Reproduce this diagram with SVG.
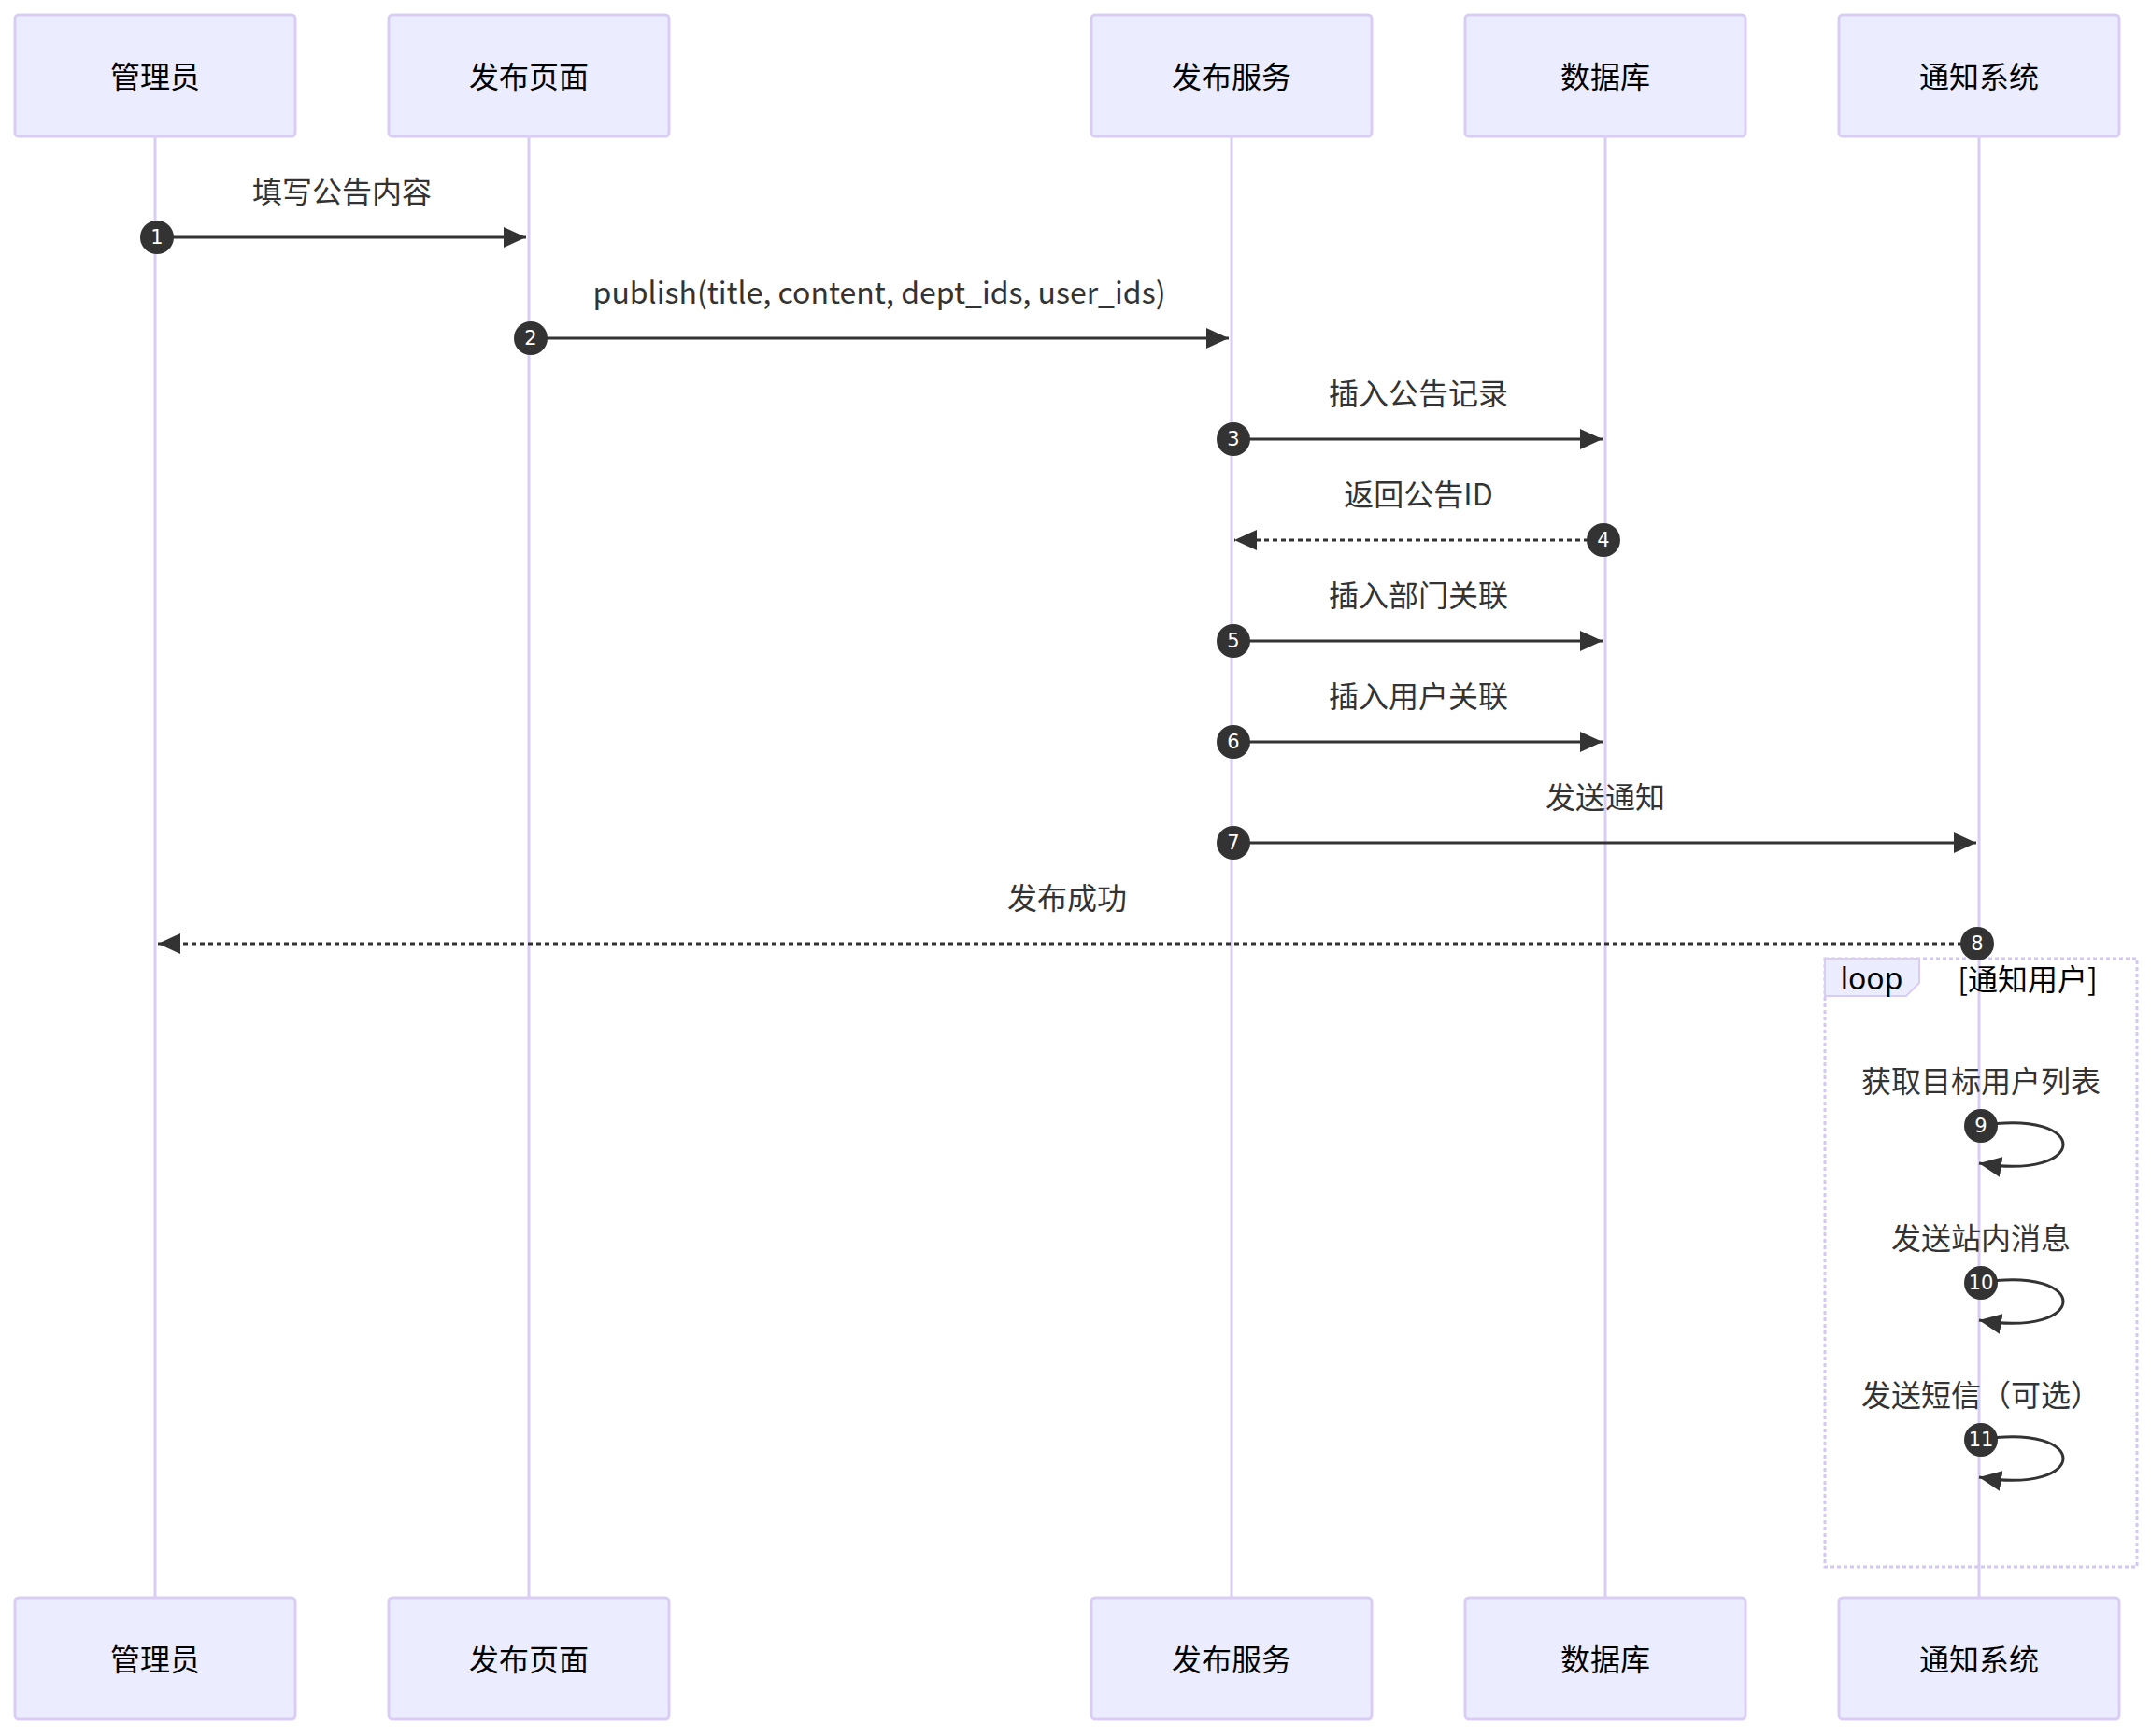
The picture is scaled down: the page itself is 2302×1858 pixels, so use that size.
<svg xmlns="http://www.w3.org/2000/svg" width="2302" height="1858" viewBox="0 0 2302 1858">
<style>
.actor{fill:#ECECFF;stroke:#D9CDF3;stroke-width:3}
.actor-text{font-family:"Noto Sans CJK SC","Noto Sans",sans-serif;font-size:32px;fill:#000;text-anchor:middle;dominant-baseline:central}
.lifeline{stroke:#D9CDF3;stroke-width:3;fill:none}
.msg{stroke:#333;stroke-width:3;fill:none}
.dashed{stroke-dasharray:5 4}
.msg-text{font-family:"Noto Sans CJK SC","Noto Sans",sans-serif;font-size:32px;fill:#333;text-anchor:middle;dominant-baseline:central}
.seq{fill:#333}
.seq-text{font-family:"DejaVu Sans",sans-serif;font-size:21px;fill:#fff;text-anchor:middle;dominant-baseline:central}
.loop-line{stroke:#D4C8F2;stroke-width:3;fill:none;stroke-dasharray:4 3}
.label-box{fill:#ECECFF;stroke:#D9CDF3;stroke-width:2}
.loop-text{font-family:"Noto Sans","Noto Sans CJK SC",sans-serif;font-size:32px;fill:#000;text-anchor:middle;dominant-baseline:central}
.loop-cond{font-family:"Noto Sans CJK SC","Noto Sans",sans-serif;font-size:32px;fill:#000;text-anchor:middle;dominant-baseline:central}
</style>
<defs>
<marker id="arrow" markerUnits="userSpaceOnUse" markerWidth="24" markerHeight="22" viewBox="0 0 22 20" refX="22" refY="10" orient="auto">
<path d="M0,0 L22,10 L0,20 z" fill="#333"/>
</marker>
</defs>
<rect width="2302" height="1858" fill="#fff"/>
<g id="lifelines">
<line class="lifeline" x1="166" y1="146" x2="166" y2="1710"/>
<line class="lifeline" x1="566" y1="146" x2="566" y2="1710"/>
<line class="lifeline" x1="1318" y1="146" x2="1318" y2="1710"/>
<line class="lifeline" x1="1718" y1="146" x2="1718" y2="1710"/>
<line class="lifeline" x1="2118" y1="146" x2="2118" y2="1710"/>
</g>
<g id="actor-admin">
<rect class="actor" x="16" y="16" width="300" height="130" rx="4"/>
<text class="actor-text" x="166" y="80">管理员</text>
<rect class="actor" x="16" y="1710" width="300" height="130" rx="4"/>
<text class="actor-text" x="166" y="1774">管理员</text>
</g>
<g id="actor-page">
<rect class="actor" x="416" y="16" width="300" height="130" rx="4"/>
<text class="actor-text" x="566" y="80">发布页面</text>
<rect class="actor" x="416" y="1710" width="300" height="130" rx="4"/>
<text class="actor-text" x="566" y="1774">发布页面</text>
</g>
<g id="actor-service">
<rect class="actor" x="1168" y="16" width="300" height="130" rx="4"/>
<text class="actor-text" x="1318" y="80">发布服务</text>
<rect class="actor" x="1168" y="1710" width="300" height="130" rx="4"/>
<text class="actor-text" x="1318" y="1774">发布服务</text>
</g>
<g id="actor-db">
<rect class="actor" x="1568" y="16" width="300" height="130" rx="4"/>
<text class="actor-text" x="1718" y="80">数据库</text>
<rect class="actor" x="1568" y="1710" width="300" height="130" rx="4"/>
<text class="actor-text" x="1718" y="1774">数据库</text>
</g>
<g id="actor-notify">
<rect class="actor" x="1968" y="16" width="300" height="130" rx="4"/>
<text class="actor-text" x="2118" y="80">通知系统</text>
<rect class="actor" x="1968" y="1710" width="300" height="130" rx="4"/>
<text class="actor-text" x="2118" y="1774">通知系统</text>
</g>
<g id="loop">
<rect class="loop-line" x="1953" y="1026" width="334" height="651"/>
<polygon class="label-box" points="1953,1026 2054,1026 2054,1052 2040,1066 1953,1066"/>
<text class="loop-text" x="2003" y="1046">loop</text>
<text class="loop-cond" x="2170" y="1046">[通知用户]</text>
</g>
<g id="connectors">
<line class="msg" x1="166" y1="254" x2="563" y2="254" marker-end="url(#arrow)"/>
<text class="msg-text" x="366" y="203">填写公告内容</text>
<line class="msg" x1="566" y1="362" x2="1315" y2="362" marker-end="url(#arrow)"/>
<text class="msg-text" x="941" y="311">publish(title, content, dept_ids, user_ids)</text>
<line class="msg" x1="1318" y1="470" x2="1715" y2="470" marker-end="url(#arrow)"/>
<text class="msg-text" x="1518" y="419">插入公告记录</text>
<line class="msg dashed" x1="1718" y1="578" x2="1321" y2="578" marker-end="url(#arrow)"/>
<text class="msg-text" x="1518" y="527">返回公告ID</text>
<line class="msg" x1="1318" y1="686" x2="1715" y2="686" marker-end="url(#arrow)"/>
<text class="msg-text" x="1518" y="635">插入部门关联</text>
<line class="msg" x1="1318" y1="794" x2="1715" y2="794" marker-end="url(#arrow)"/>
<text class="msg-text" x="1518" y="743">插入用户关联</text>
<line class="msg" x1="1318" y1="902" x2="2115" y2="902" marker-end="url(#arrow)"/>
<text class="msg-text" x="1718" y="851">发送通知</text>
<line class="msg dashed" x1="2118" y1="1010" x2="169" y2="1010" marker-end="url(#arrow)"/>
<text class="msg-text" x="1142" y="959">发布成功</text>
<path class="msg" d="M2118,1205 C2238,1185 2238,1265 2118,1245" marker-end="url(#arrow)"/>
<text class="msg-text" x="2120" y="1155">获取目标用户列表</text>
<path class="msg" d="M2118,1373 C2238,1353 2238,1433 2118,1413" marker-end="url(#arrow)"/>
<text class="msg-text" x="2120" y="1323">发送站内消息</text>
<path class="msg" d="M2118,1541 C2238,1521 2238,1601 2118,1581" marker-end="url(#arrow)"/>
<text class="msg-text" x="2120" y="1491">发送短信（可选）</text>
</g>
<g id="sequence-numbers">
<circle class="seq" cx="168" cy="254" r="18"/><text class="seq-text" x="168" y="254">1</text>
<circle class="seq" cx="568" cy="362" r="18"/><text class="seq-text" x="568" y="362">2</text>
<circle class="seq" cx="1320" cy="470" r="18"/><text class="seq-text" x="1320" y="470">3</text>
<circle class="seq" cx="1716" cy="578" r="18"/><text class="seq-text" x="1716" y="578">4</text>
<circle class="seq" cx="1320" cy="686" r="18"/><text class="seq-text" x="1320" y="686">5</text>
<circle class="seq" cx="1320" cy="794" r="18"/><text class="seq-text" x="1320" y="794">6</text>
<circle class="seq" cx="1320" cy="902" r="18"/><text class="seq-text" x="1320" y="902">7</text>
<circle class="seq" cx="2116" cy="1010" r="18"/><text class="seq-text" x="2116" y="1010">8</text>
<circle class="seq" cx="2120" cy="1205" r="18"/><text class="seq-text" x="2120" y="1205">9</text>
<circle class="seq" cx="2120" cy="1373" r="18"/><text class="seq-text" x="2120" y="1373">10</text>
<circle class="seq" cx="2120" cy="1541" r="18"/><text class="seq-text" x="2120" y="1541">11</text>
</g>
</svg>
